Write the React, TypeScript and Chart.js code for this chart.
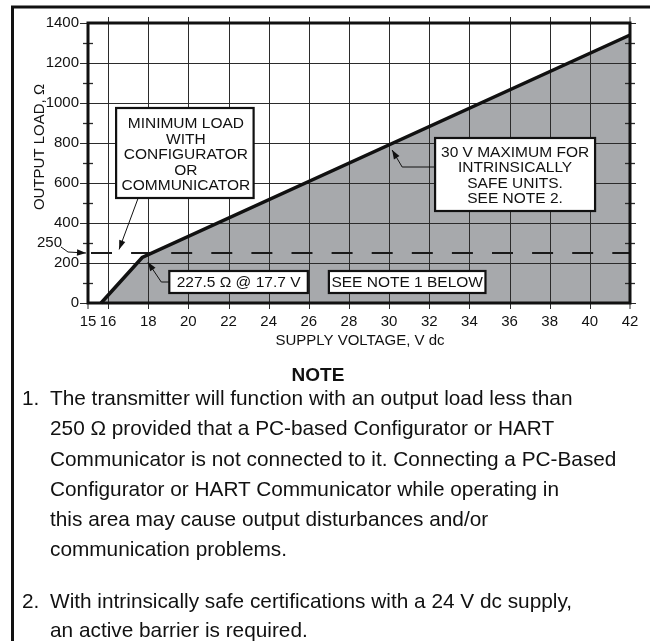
import React, { useEffect, useRef } from "react";
import { Chart, registerables } from "chart.js";

Chart.register(...registerables);

const FONT = '"Liberation Sans", Arial, Helvetica, sans-serif';

// ---- data ----
const xTickValues = [15, 16, 18, 20, 22, 24, 26, 28, 30, 32, 34, 36, 38, 40, 42];
const xGridValues = [16, 18, 20, 22, 24, 26, 28, 30, 32, 34, 36, 38, 40];
const yTickValues = [0, 200, 400, 600, 800, 1000, 1200, 1400];
const yMinorValues = [100, 300, 500, 700, 900, 1100, 1300];
const loadLineVoltage = [15.65, 17.7, 42];
const loadLineOhms = [0, 227.5, 1340];
const minimumLoad = 250;
const minimumLoadLabel = "250";

const xTitle = "SUPPLY VOLTAGE, V dc";
const yTitle = "OUTPUT LOAD, Ω";
const boxMinLoadLines = ["MINIMUM LOAD", "WITH", "CONFIGURATOR", "OR", "COMMUNICATOR"];
const boxPointLabel = "227.5 Ω @ 17.7 V";
const boxSeeNote = "SEE NOTE 1 BELOW";
const boxMaxLines = ["30 V MAXIMUM FOR", "INTRINSICALLY", "SAFE UNITS.", "SEE NOTE 2."];

const noteHeading = "NOTE";
const note1Lines = [
  "The transmitter will function with an output load less than",
  "250 \u03A9 provided that a PC-based Configurator or HART",
  "Communicator is not connected to it. Connecting a PC-Based",
  "Configurator or HART Communicator while operating in",
  "this area may cause output disturbances and/or",
  "communication problems.",
];
const note2Lines = [
  "With intrinsically safe certifications with a 24 V dc supply,",
  "an active barrier is required.",
];

function arrow(ctx: CanvasRenderingContext2D, pts: number[][]) {
  ctx.beginPath();
  ctx.moveTo(pts[0][0], pts[0][1]);
  for (let i = 1; i < pts.length; i++) ctx.lineTo(pts[i][0], pts[i][1]);
  ctx.stroke();
  const [x1, y1] = pts[pts.length - 2];
  const [x2, y2] = pts[pts.length - 1];
  const ang = Math.atan2(y2 - y1, x2 - x1);
  const L = 9, W = 3.2;
  const c = Math.cos(ang), s = Math.sin(ang);
  ctx.beginPath();
  ctx.moveTo(x2, y2);
  ctx.lineTo(x2 - L * c + W * s, y2 - L * s - W * c);
  ctx.lineTo(x2 - L * c - W * s, y2 - L * s + W * c);
  ctx.closePath();
  ctx.fill();
}

function box(ctx: CanvasRenderingContext2D, x1: number, y1: number, x2: number, y2: number) {
  ctx.fillStyle = "#ffffff";
  ctx.fillRect(x1, y1, x2 - x1, y2 - y1);
  ctx.strokeStyle = "#111";
  ctx.lineWidth = 2.2;
  ctx.strokeRect(x1, y1, x2 - x1, y2 - y1);
}

const decor = {
  id: "decor",
  beforeDatasetDraw(chart: any, args: any) {
    if (args.index !== 0) return;
    const ctx: CanvasRenderingContext2D = chart.ctx;
    const xs = chart.scales.x, ys = chart.scales.y, a = chart.chartArea;
    ctx.save();
    ctx.strokeStyle = "#2b2b2b";
    ctx.lineWidth = 1;
    for (const v of xGridValues) {
      const p = Math.round(xs.getPixelForValue(v)) + 0.5;
      ctx.beginPath();
      ctx.moveTo(p, a.top - 6);
      ctx.lineTo(p, a.bottom + 6);
      ctx.stroke();
    }
    for (const v of [15, 42]) {
      const p = xs.getPixelForValue(v);
      ctx.beginPath();
      ctx.moveTo(p, v === 42 ? a.top - 6 : a.top);
      ctx.lineTo(p, a.bottom + 6);
      ctx.stroke();
    }
    for (const v of yTickValues) {
      const p = Math.round(ys.getPixelForValue(v)) + 0.5;
      ctx.beginPath();
      ctx.moveTo(a.left - 8, p);
      ctx.lineTo(a.right + 6, p);
      ctx.stroke();
    }
    ctx.lineWidth = 1.3;
    for (const v of yMinorValues) {
      const p = Math.round(ys.getPixelForValue(v)) + 0.5;
      for (const ex of [a.left, a.right]) {
        ctx.beginPath();
        ctx.moveTo(ex - 5, p);
        ctx.lineTo(ex + 5, p);
        ctx.stroke();
      }
    }
    // minimum load dashed line
    const yl = ys.getPixelForValue(minimumLoad);
    ctx.strokeStyle = "#1a1a1a";
    ctx.lineWidth = 2;
    ctx.setLineDash([21, 19.1]);
    ctx.lineDashOffset = 37.1;
    ctx.beginPath();
    ctx.moveTo(a.left, yl);
    ctx.lineTo(a.right, yl);
    ctx.stroke();
    ctx.restore();
  },
  afterDraw(chart: any) {
    const ctx: CanvasRenderingContext2D = chart.ctx;
    const xs = chart.scales.x, ys = chart.scales.y, a = chart.chartArea;
    const px = (v: number) => xs.getPixelForValue(v);
    const py = (v: number) => ys.getPixelForValue(v);
    ctx.save();
    // plot frame
    ctx.strokeStyle = "#111";
    ctx.lineWidth = 3;
    ctx.strokeRect(a.left, a.top, a.right - a.left, a.bottom - a.top);
    // outer figure border
    ctx.lineWidth = 3;
    ctx.beginPath();
    ctx.moveTo(12.5, 641);
    ctx.lineTo(12.5, 7);
    ctx.lineTo(650, 7);
    ctx.stroke();

    ctx.fillStyle = "#111";
    ctx.strokeStyle = "#111";
    // axis titles
    ctx.font = `15px ${FONT}`;
    ctx.textAlign = "center";
    ctx.textBaseline = "middle";
    ctx.fillText(xTitle, (a.left + a.right) / 2 + 1, a.bottom + 38);
    ctx.save();
    ctx.translate(40, py(780));
    ctx.rotate(-Math.PI / 2);
    ctx.fillText(yTitle, 0, 0);
    ctx.restore();

    // 250 label with leader
    const yl = py(minimumLoad);
    ctx.textAlign = "right";
    ctx.fillText(minimumLoadLabel, a.left - 26, yl - 10);
    ctx.lineWidth = 1;
    arrow(ctx, [[a.left - 27, yl - 6], [a.left - 20, yl - 1], [a.left - 2, yl]]);

    const boxFont = `15.5px ${FONT}`;
    // Box: minimum load
    const b1 = [px(16.4), py(975), px(23.25), py(525)];
    box(ctx, b1[0], b1[1], b1[2], b1[3]);
    ctx.fillStyle = "#111";
    ctx.textAlign = "center";
    ctx.font = boxFont;
    const b1cx = (b1[0] + b1[2]) / 2 + 1;
    boxMinLoadLines.forEach((t, i) => ctx.fillText(t, b1cx, b1[1] + 16 + i * 15.5));
    ctx.lineWidth = 1;
    arrow(ctx, [[px(17.5), b1[3]], [px(16.55), py(268)]]);

    // Box: point label
    const b2 = [px(19.05), py(160), px(25.95), py(50)];
    box(ctx, b2[0], b2[1], b2[2], b2[3]);
    ctx.fillStyle = "#111";
    ctx.fillText(boxPointLabel, (b2[0] + b2[2]) / 2, (b2[1] + b2[3]) / 2 + 1);
    ctx.lineWidth = 1;
    const my = (b2[1] + b2[3]) / 2;
    arrow(ctx, [[b2[0], my], [px(18.65), my], [px(17.98), py(205)]]);

    // Box: see note 1
    const b3 = [px(27.0), py(160), px(34.8), py(50)];
    box(ctx, b3[0], b3[1], b3[2], b3[3]);
    ctx.fillStyle = "#111";
    ctx.fillText(boxSeeNote, (b3[0] + b3[2]) / 2, (b3[1] + b3[3]) / 2 + 1);

    // Box: 30 V maximum
    const b4 = [px(32.29), py(825), px(40.26), py(460)];
    box(ctx, b4[0], b4[1], b4[2], b4[3]);
    ctx.fillStyle = "#111";
    const b4cx = (b4[0] + b4[2]) / 2;
    boxMaxLines.forEach((t, i) => ctx.fillText(t, b4cx, b4[1] + 14.5 + i * 15.5));
    ctx.lineWidth = 1;
    arrow(ctx, [[b4[0], py(680)], [px(30.65), py(680)], [px(30.15), py(765)]]);

    ctx.restore();
  },
};

export default function App() {
  const ref = useRef<HTMLCanvasElement | null>(null);
  useEffect(() => {
    if (!ref.current) return;
    Chart.defaults.font.family = FONT;
    const fillPts = loadLineVoltage.map((v, i) => ({ x: v, y: loadLineOhms[i] }));
    const chart = new Chart(ref.current, {
      type: "line",
      data: {
        datasets: [
          {
            label: "Load line",
            data: fillPts,
            borderColor: "#111",
            borderWidth: 3.5,
            pointRadius: 0,
            fill: false,
            tension: 0,
            clip: 4,
          } as any,
          {
            label: "Operating region",
            data: fillPts,
            borderWidth: 0,
            borderColor: "rgba(0,0,0,0)",
            backgroundColor: "#a7a9ac",
            pointRadius: 0,
            fill: "origin",
            tension: 0,
          } as any,
        ],
      },
      options: {
        animation: false,
        responsive: false,
        devicePixelRatio: 1,
        layout: { padding: { top: 23, right: 20, left: 0, bottom: 298 } },
        plugins: { legend: { display: false }, tooltip: { enabled: false }, title: { display: false } },
        scales: {
          x: {
            type: "linear",
            min: 15,
            max: 42,
            afterBuildTicks: (s: any) => {
              s.ticks = xTickValues.map((v) => ({ value: v }));
            },
            afterFit: (s: any) => {
              s.height = 40;
            },
            grid: { display: false },
            border: { display: false },
            ticks: {
              color: "#111",
              font: { size: 15, family: FONT },
              padding: 2,
              maxRotation: 0,
              autoSkip: false,
              callback: (v: any) => String(v),
            },
          },
          y: {
            type: "linear",
            min: 0,
            max: 1400,
            afterBuildTicks: (s: any) => {
              s.ticks = yTickValues.map((v) => ({ value: v }));
            },
            afterFit: (s: any) => {
              s.width = 88;
            },
            grid: { display: false },
            border: { display: false },
            ticks: {
              color: "#111",
              font: { size: 15, family: FONT },
              padding: 1,
              autoSkip: false,
              callback: (v: any) => String(v),
            },
          },
        },
      },
      plugins: [decor],
    } as any);
    return () => chart.destroy();
  }, []);

  const noteStyle: React.CSSProperties = {
    position: "absolute",
    fontFamily: FONT,
    fontSize: "20.8px",
    lineHeight: "30px",
    height: "30px",
    whiteSpace: "nowrap",
    color: "#111",
  };
  const note1Y = [398, 428, 459, 489, 519, 549];
  const note2Y = [601, 630];

  return (
    <div style={{ position: "absolute", left: 0, top: 0, width: 650, height: 641, background: "#fff", overflow: "hidden" }}>
      <canvas ref={ref} width={650} height={641} style={{ position: "absolute", left: 0, top: 0 }} />
      <div style={{ ...noteStyle, left: 0, width: 636, textAlign: "center", top: 375 - 15, fontWeight: "bold", fontSize: "19px" }}>
        {noteHeading}
      </div>
      <div style={{ ...noteStyle, left: 22, top: note1Y[0] - 15 }}>1.</div>
      {note1Lines.map((t, i) => (
        <div key={"n1" + i} style={{ ...noteStyle, left: 50, top: note1Y[i] - 15 }}>
          {t}
        </div>
      ))}
      <div style={{ ...noteStyle, left: 22, top: note2Y[0] - 15 }}>2.</div>
      {note2Lines.map((t, i) => (
        <div key={"n2" + i} style={{ ...noteStyle, left: 50, top: note2Y[i] - 15 }}>
          {t}
        </div>
      ))}
    </div>
  );
}
